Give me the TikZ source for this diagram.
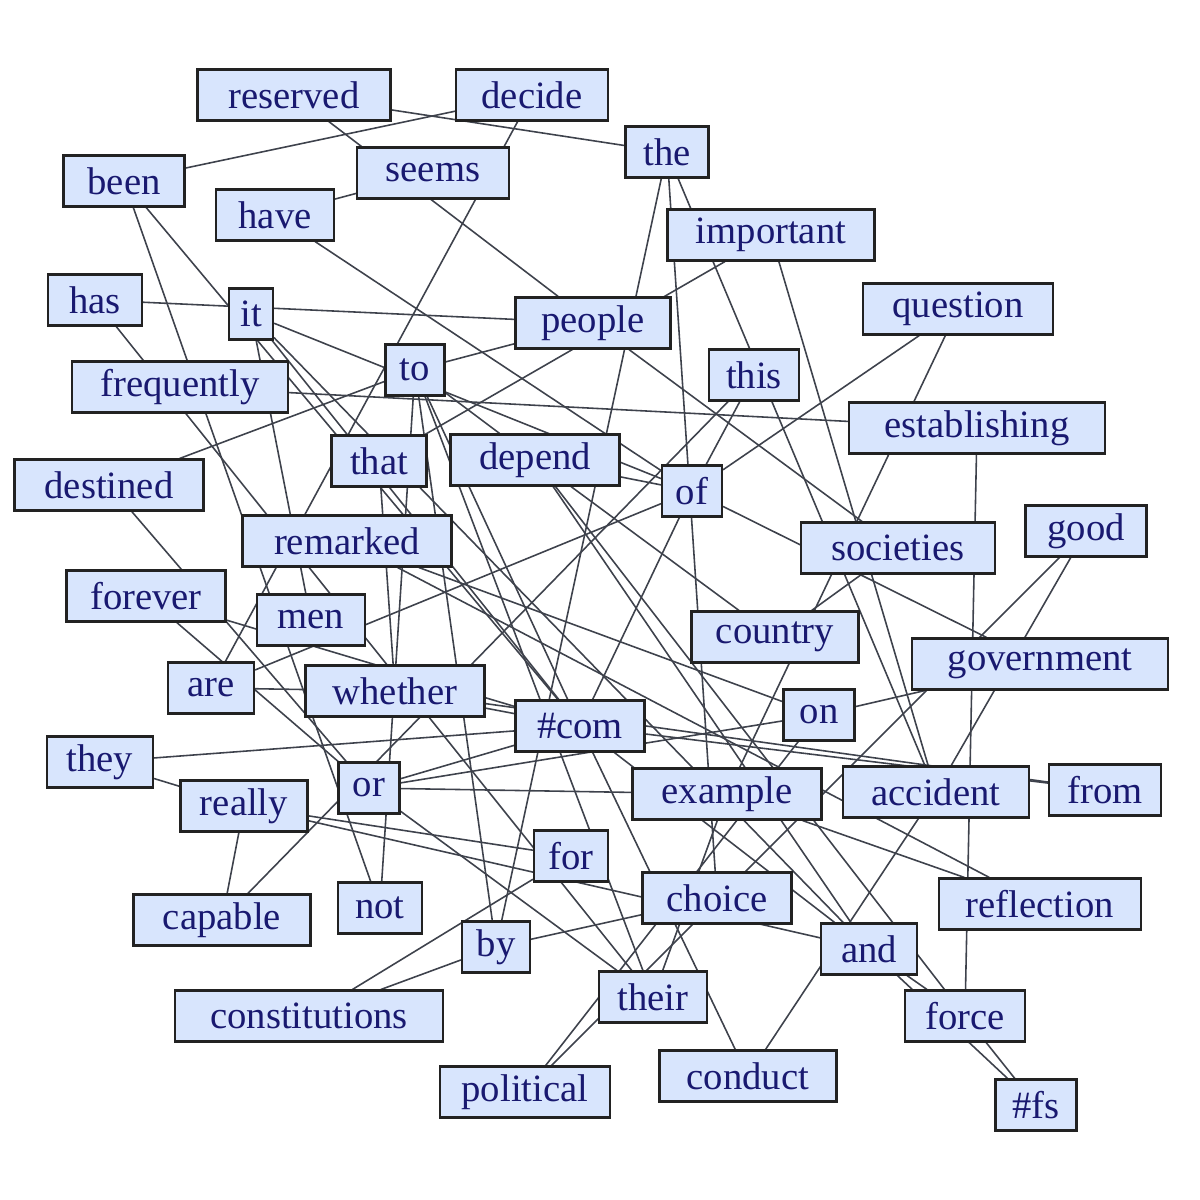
\documentclass[tikz,border=0pt]{standalone}
\usepackage{fontspec}
\setmainfont{Liberation Serif}
\usepackage{tikz}
\usetikzlibrary{backgrounds}
\definecolor{boxfill}{RGB}{216,229,253}
\definecolor{boxline}{RGB}{34,34,34}
\definecolor{wordtext}{RGB}{25,25,112}
\definecolor{linkcolor}{RGB}{62,66,76}

\begin{document}
\begin{tikzpicture}[
  word/.style={draw=boxline,fill=boxfill,text=wordtext,line width=0.6pt,
    minimum height=5.1mm,inner sep=0pt,font=\fontsize{11}{13}\selectfont},
  link/.style={draw=linkcolor,line width=0.45pt}
]
\useasboundingbox (0,0) rectangle (12,-12);
\node[word,minimum width=1.93cm] (reserved) at (2.94,-0.95) {reserved};
\node[word,minimum width=1.52cm] (decide) at (5.32,-0.95) {decide};
\node[word,minimum width=0.83cm] (the) at (6.67,-1.52) {the};
\node[word,minimum width=1.21cm] (been) at (1.24,-1.81) {been};
\node[word,minimum width=1.52cm] (seems) at (4.33,-1.73) {seems};
\node[word,minimum width=1.18cm] (have) at (2.75,-2.15) {have};
\node[word,minimum width=2.07cm] (important) at (7.71,-2.35) {important};
\node[word,minimum width=0.94cm] (has) at (0.95,-3.00) {has};
\node[word,minimum width=0.44cm] (it) at (2.51,-3.14) {it};
\node[word,minimum width=1.55cm] (people) at (5.93,-3.23) {people};
\node[word,minimum width=1.90cm] (question) at (9.58,-3.09) {question};
\node[word,minimum width=0.59cm] (to) at (4.15,-3.70) {to};
\node[word,minimum width=2.16cm] (frequently) at (1.80,-3.87) {frequently};
\node[word,minimum width=0.90cm] (this) at (7.54,-3.75) {this};
\node[word,minimum width=2.56cm] (establishing) at (9.77,-4.28) {establishing};
\node[word,minimum width=0.95cm] (that) at (3.79,-4.61) {that};
\node[word,minimum width=1.69cm] (depend) at (5.35,-4.60) {depend};
\node[word,minimum width=1.89cm] (destined) at (1.09,-4.85) {destined};
\node[word,minimum width=0.60cm] (of) at (6.92,-4.91) {of};
\node[word,minimum width=2.09cm] (remarked) at (3.47,-5.41) {remarked};
\node[word,minimum width=1.94cm] (societies) at (8.98,-5.48) {societies};
\node[word,minimum width=1.21cm] (good) at (10.86,-5.31) {good};
\node[word,minimum width=1.59cm] (forever) at (1.46,-5.96) {forever};
\node[word,minimum width=1.08cm] (men) at (3.11,-6.20) {men};
\node[word,minimum width=1.67cm] (country) at (7.75,-6.37) {country};
\node[word,minimum width=2.56cm] (government) at (10.40,-6.64) {government};
\node[word,minimum width=0.86cm] (are) at (2.11,-6.88) {are};
\node[word,minimum width=1.79cm] (whether) at (3.95,-6.91) {whether};
\node[word,minimum width=0.71cm] (on) at (8.19,-7.15) {on};
\node[word,minimum width=1.29cm] (com) at (5.80,-7.26) {\#com};
\node[word,minimum width=1.06cm] (they) at (1.00,-7.62) {they};
\node[word,minimum width=0.61cm] (or) at (3.69,-7.88) {or};
\node[word,minimum width=1.89cm] (example) at (7.27,-7.94) {example};
\node[word,minimum width=1.86cm] (accident) at (9.36,-7.92) {accident};
\node[word,minimum width=1.12cm] (from) at (11.05,-7.90) {from};
\node[word,minimum width=1.27cm] (really) at (2.44,-8.06) {really};
\node[word,minimum width=0.74cm] (for) at (5.71,-8.56) {for};
\node[word,minimum width=1.49cm] (choice) at (7.17,-8.98) {choice};
\node[word,minimum width=2.02cm] (reflection) at (10.40,-9.04) {reflection};
\node[word,minimum width=1.77cm] (capable) at (2.22,-9.20) {capable};
\node[word,minimum width=0.84cm] (not) at (3.80,-9.08) {not};
\node[word,minimum width=0.68cm] (by) at (4.96,-9.47) {by};
\node[word,minimum width=0.96cm] (and) at (8.69,-9.49) {and};
\node[word,minimum width=2.68cm] (constitutions) at (3.09,-10.16) {constitutions};
\node[word,minimum width=1.08cm] (their) at (6.53,-9.97) {their};
\node[word,minimum width=1.20cm] (force) at (9.65,-10.16) {force};
\node[word,minimum width=1.70cm] (political) at (5.25,-10.92) {political};
\node[word,minimum width=1.77cm] (conduct) at (7.48,-10.76) {conduct};
\node[word,minimum width=0.81cm] (fs) at (10.36,-11.05) {\#fs};
\begin{scope}[on background layer]
\draw[link] (reserved) -- (the);
\draw[link] (reserved) -- (people);
\draw[link] (been) -- (decide);
\draw[link] (been) -- (not);
\draw[link] (been) -- (com);
\draw[link] (have) -- (seems);
\draw[link] (have) -- (of);
\draw[link] (has) -- (people);
\draw[link] (has) -- (their);
\draw[link] (decide) -- (are);
\draw[link] (the) -- (by);
\draw[link] (the) -- (choice);
\draw[link] (the) -- (accident);
\draw[link] (important) -- (accident);
\draw[link] (important) -- (that);
\draw[link] (it) -- (of);
\draw[link] (it) -- (men);
\draw[link] (it) -- (com);
\draw[link] (it) -- (and);
\draw[link] (to) -- (people);
\draw[link] (to) -- (destined);
\draw[link] (to) -- (depend);
\draw[link] (to) -- (not);
\draw[link] (to) -- (by);
\draw[link] (to) -- (com);
\draw[link] (to) -- (their);
\draw[link] (frequently) -- (establishing);
\draw[link] (destined) -- (or);
\draw[link] (forever) -- (or);
\draw[link] (forever) -- (com);
\draw[link] (are) -- (of);
\draw[link] (are) -- (whether);
\draw[link] (they) -- (com);
\draw[link] (they) -- (really);
\draw[link] (really) -- (for);
\draw[link] (really) -- (and);
\draw[link] (really) -- (capable);
\draw[link] (capable) -- (this);
\draw[link] (or) -- (com);
\draw[link] (or) -- (on);
\draw[link] (or) -- (example);
\draw[link] (or) -- (their);
\draw[link] (that) -- (whether);
\draw[link] (remarked) -- (on);
\draw[link] (remarked) -- (reflection);
\draw[link] (on) -- (government);
\draw[link] (on) -- (political);
\draw[link] (country) -- (societies);
\draw[link] (good) -- (political);
\draw[link] (good) -- (accident);
\draw[link] (whether) -- (from);
\draw[link] (whether) -- (com);
\draw[link] (com) -- (from);
\draw[link] (com) -- (and);
\draw[link] (com) -- (conduct);
\draw[link] (com) -- (of);
\draw[link] (depend) -- (of);
\draw[link] (depend) -- (country);
\draw[link] (depend) -- (and);
\draw[link] (depend) -- (force);
\draw[link] (establishing) -- (force);
\draw[link] (question) -- (of);
\draw[link] (question) -- (example);
\draw[link] (this) -- (of);
\draw[link] (of) -- (government);
\draw[link] (people) -- (societies);
\draw[link] (example) -- (reflection);
\draw[link] (example) -- (their);
\draw[link] (by) -- (choice);
\draw[link] (by) -- (constitutions);
\draw[link] (constitutions) -- (for);
\draw[link] (conduct) -- (accident);
\draw[link] (and) -- (force);
\draw[link] (and) -- (fs);
\draw[link] (force) -- (fs);
\end{scope}
\end{tikzpicture}
\end{document}
